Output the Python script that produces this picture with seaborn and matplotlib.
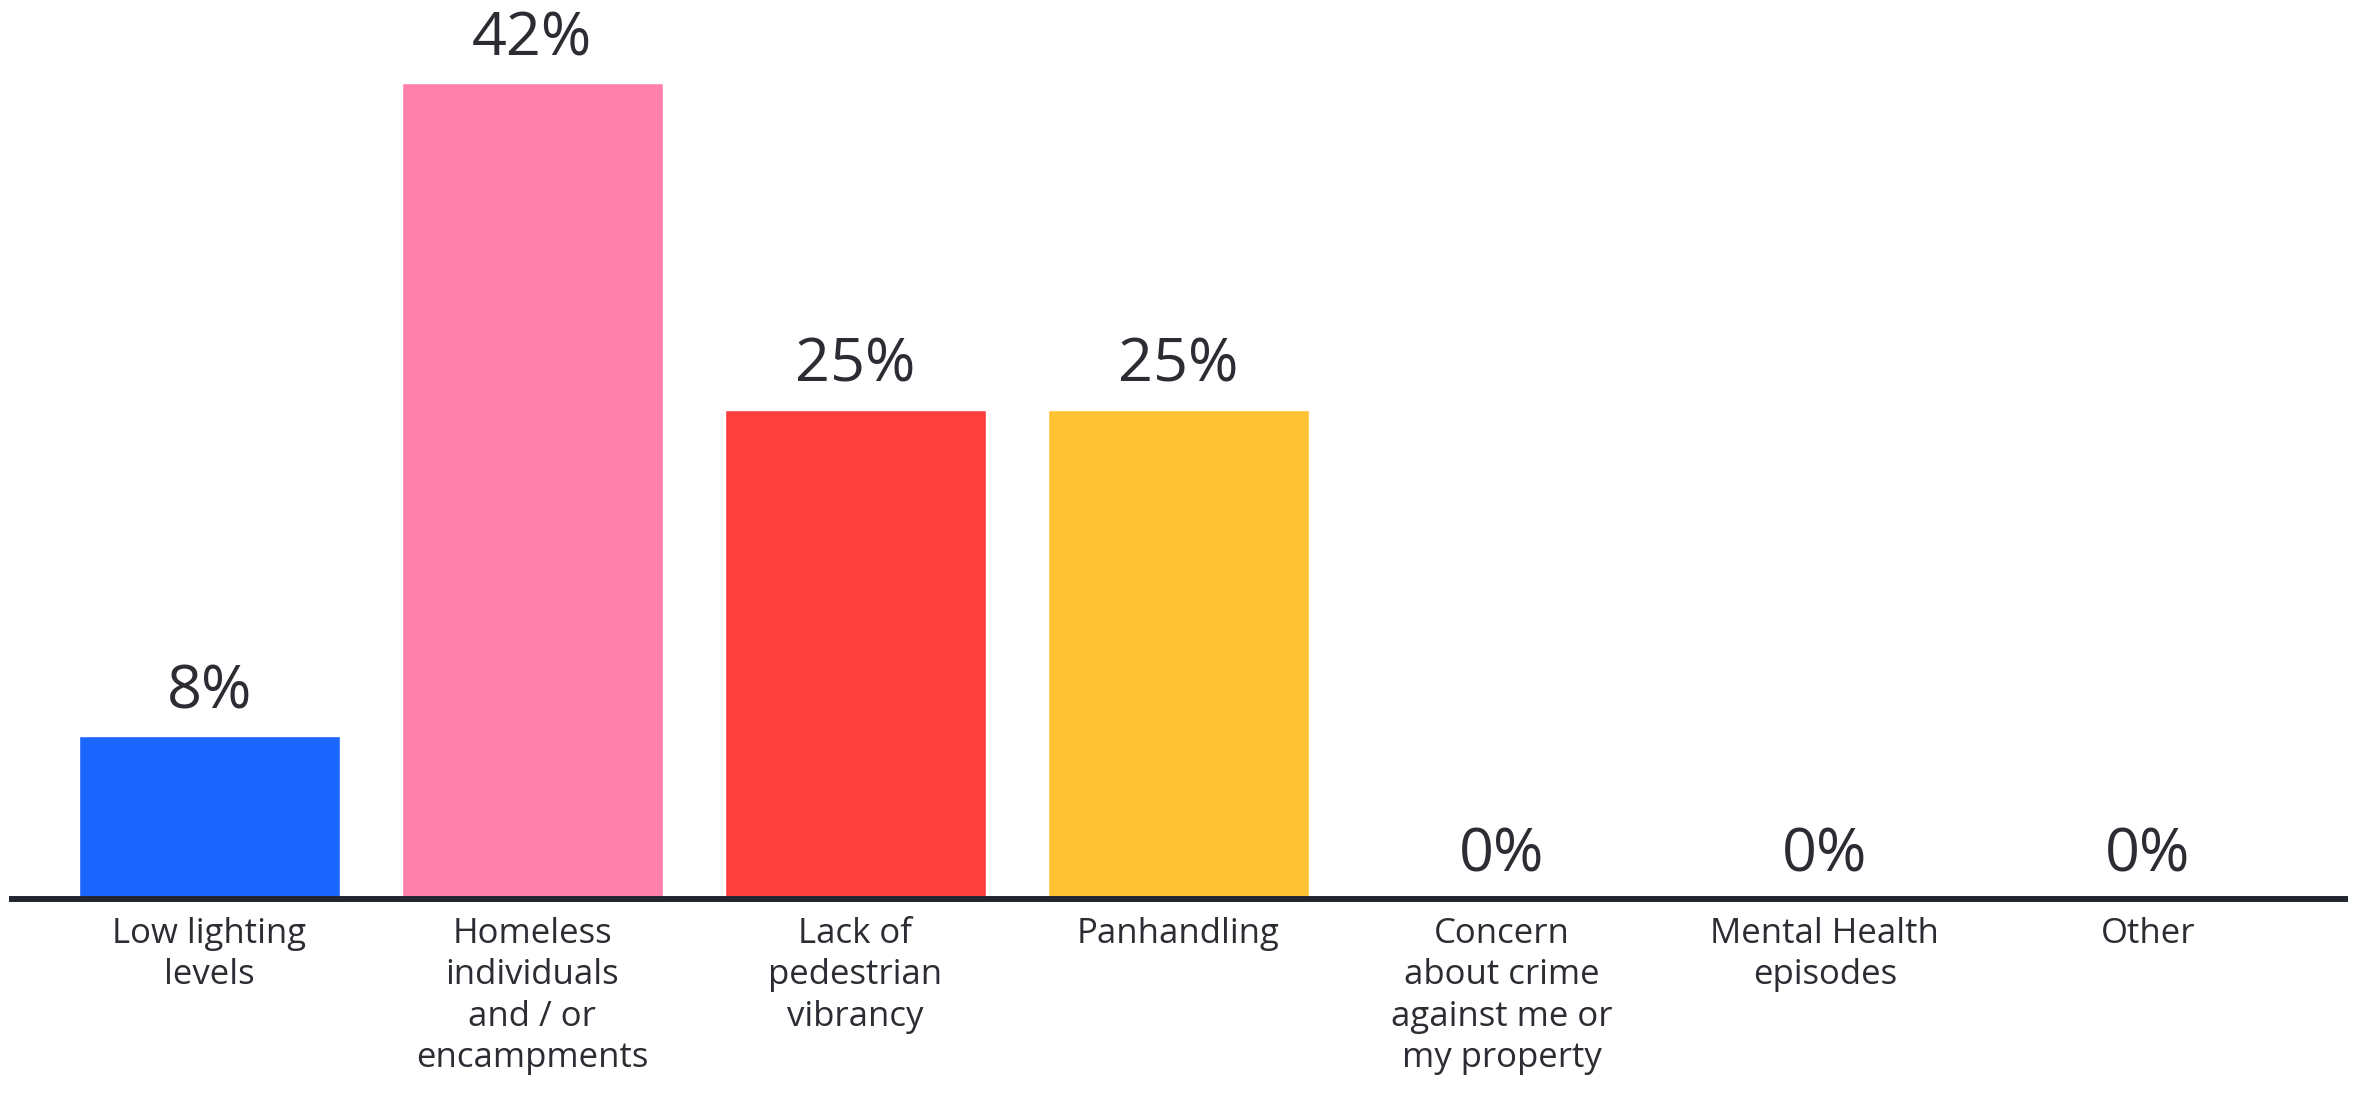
import matplotlib
matplotlib.use('Agg')
import matplotlib.pyplot as plt
import seaborn as sns
import pandas as pd

# survey answers (share of respondents, %)
categories = [
    'Low lighting\nlevels',
    'Homeless\nindividuals\nand / or\nencampments',
    'Lack of\npedestrian\nvibrancy',
    'Panhandling',
    'Concern\nabout crime\nagainst me or\nmy property',
    'Mental Health\nepisodes',
    'Other',
]
values = [8.33, 41.67, 25.0, 25.0, 0.0, 0.0, 0.0]
colors = ['#1a66ff', '#ff80aa', '#ff3e3e', '#ffc233', '#ffffff', '#ffffff', '#ffffff']

TEXT = '#2b2d33'

sns.set_theme(style='white')
plt.rcParams['font.family'] = ['Open Sans', 'DejaVu Sans']

df = pd.DataFrame({'category': categories, 'value': values})

fig = plt.figure(figsize=(23.57, 10.95), dpi=100)
ax = fig.add_axes([0.0051, 0.179, 0.9898, 0.8046])

sns.barplot(data=df, x='category', y='value', hue='category', palette=colors,
            width=0.807, legend=False, ax=ax, saturation=1)

for cont in ax.containers:
    labels = [f'{round(b.get_height())}%' for b in cont]
    ax.bar_label(cont, labels=labels, padding=10, fontsize=44, color=TEXT)

ax.set_xlim(-0.61, 6.61)
ax.set_ylim(0, 45)
ax.set_xlabel('')
ax.set_ylabel('')
ax.set_yticks([])
ax.tick_params(axis='x', length=0, pad=13, labelsize=25, colors=TEXT)
for lbl in ax.get_xticklabels():
    lbl.set_linespacing(1.28)
    lbl.set_verticalalignment('top')

for side in ['top', 'left', 'right']:
    ax.spines[side].set_visible(False)
ax.spines['bottom'].set_color('#22262e')
ax.spines['bottom'].set_linewidth(4.3)
ax.spines['bottom'].set_zorder(5)

fig.savefig('out.png', dpi=100, facecolor='white')
